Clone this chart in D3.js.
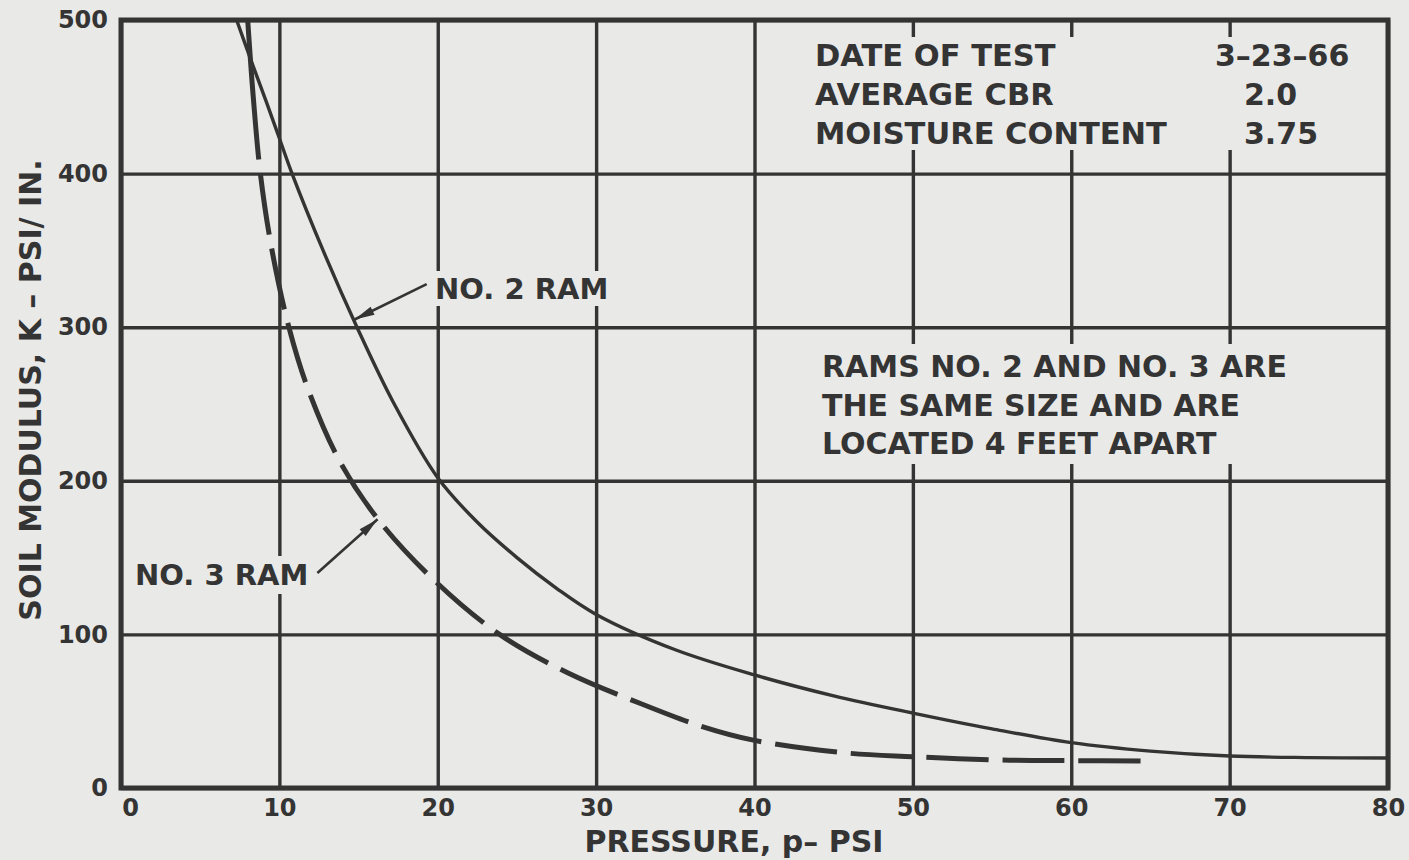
<!DOCTYPE html>
<html>
<head>
<meta charset="utf-8">
<script src="https://cdn.jsdelivr.net/npm/d3@7"></script>
<style>
  html, body { margin: 0; padding: 0; background: #e9e9e7; }
  svg { display: block; }
  text { font-family: "DejaVu Sans", sans-serif; font-weight: bold; fill: #343434; }
</style>
</head>
<body>
<svg id="chart" width="1409" height="860"></svg>
<script>
// Axis ticks
const pressureTicks = [0, 10, 20, 30, 40, 50, 60, 70, 80];
const modulusTicks = [0, 100, 200, 300, 400, 500];

// No. 2 ram: soil modulus K (psi/in.) against pressure p (psi)
const ram2Pressure = [7.3, 8.2, 9.2, 10.0, 10.8, 12.8, 14.9, 17.2, 20.0, 22.5, 25, 27.5, 30, 35, 40, 45, 50, 55, 60, 65, 70, 75, 80];
const ram2Modulus  = [500, 474, 446, 423, 400, 349, 300, 251, 202, 173, 150, 130, 113, 90, 73.6, 60, 48.8, 38.5, 29.5, 24, 20.8, 19.8, 19.5];

// No. 3 ram
const ram3Pressure = [8.0, 8.35, 8.8, 9.5, 10.6, 11.8, 13.8, 16.3, 19.8, 23.9, 28.2, 32.8, 36.7, 40, 45.8, 50, 55.5, 60, 64.6];
const ram3Modulus  = [500, 450, 400, 352, 300, 260, 213, 174, 135, 100, 75, 55, 40, 31, 22.8, 20.4, 18.2, 17.8, 17.5];

// Test information block
const testInfoLabels = ["DATE OF TEST", "AVERAGE CBR", "MOISTURE CONTENT"];
const testInfoValues = ["3\u201323\u201366", "2.0", "3.75"];
const noteLines = ["RAMS NO. 2 AND NO. 3 ARE", "THE SAME SIZE AND ARE", "LOCATED 4 FEET APART"];
const curveLabels = ["NO. 2 RAM", "NO. 3 RAM"];

const xTitle = "PRESSURE, p\u2013 PSI";
const yTitle = "SOIL MODULUS, K \u2013 PSI/ IN.";

const ink = "#343434";
const paper = "#e9e9e7";

const svg = d3.select("#chart");
const plotLeft = 121, plotRight = 1388, plotTop = 20, plotBottom = 788;

const x = d3.scaleLinear().domain([0, 80]).range([plotLeft, plotRight]);
const y = d3.scaleLinear().domain([0, 500]).range([plotBottom, plotTop]);

// Grid + tick labels
const xAxis = svg.append("g")
  .attr("transform", `translate(0,${plotBottom})`)
  .call(d3.axisBottom(x).tickValues(pressureTicks).tickSize(-(plotBottom - plotTop)).tickPadding(11).tickFormat(d3.format("d")));
const yAxis = svg.append("g")
  .attr("transform", `translate(${plotLeft},0)`)
  .call(d3.axisLeft(y).tickValues(modulusTicks).tickSize(-(plotRight - plotLeft)).tickPadding(13).tickFormat(d3.format("d")));

[xAxis, yAxis].forEach(g => {
  g.select(".domain").remove();
  g.selectAll(".tick line").attr("stroke", ink).attr("stroke-width", 3.4);
  g.selectAll(".tick text")
    .attr("fill", ink)
    .style("font-family", "'DejaVu Sans', sans-serif")
    .style("font-weight", "bold")
    .style("font-size", "24px");
});
xAxis.selectAll(".tick text").filter(d => d === 0).attr("x", 9);

// Gaps in the grid behind the annotations
const gaps = [
  [805, 37, 555, 113],
  [810, 344, 490, 120],
  [428, 271, 190, 35],
  [128, 556, 190, 38]
];
svg.append("g").selectAll("rect").data(gaps).join("rect")
  .attr("x", d => d[0]).attr("y", d => d[1])
  .attr("width", d => d[2]).attr("height", d => d[3])
  .attr("fill", paper);

// Frame
svg.append("rect")
  .attr("x", plotLeft).attr("y", plotTop)
  .attr("width", plotRight - plotLeft).attr("height", plotBottom - plotTop)
  .attr("fill", "none").attr("stroke", ink).attr("stroke-width", 5);

// Curves
const line = d3.line()
  .x(d => x(d[0])).y(d => y(d[1]))
  .curve(d3.curveCatmullRom.alpha(0.5));

svg.append("path")
  .datum(d3.zip(ram2Pressure, ram2Modulus))
  .attr("d", line)
  .attr("fill", "none").attr("stroke", ink).attr("stroke-width", 3.4);

const dashes = ["140 14"].concat(d3.range(40).map(() => "62 14")).join(" ");
svg.append("path")
  .datum(d3.zip(ram3Pressure, ram3Modulus))
  .attr("d", line)
  .attr("fill", "none").attr("stroke", ink).attr("stroke-width", 5)
  .attr("stroke-dasharray", dashes);

// Leader arrows to the curves
function arrow(from, to) {
  const x0 = x(from[0]), y0 = y(from[1]), x1 = x(to[0]), y1 = y(to[1]);
  const a = Math.atan2(y1 - y0, x1 - x0);
  svg.append("line")
    .attr("x1", x0).attr("y1", y0).attr("x2", x1).attr("y2", y1)
    .attr("stroke", ink).attr("stroke-width", 2.6);
  const len = 20, half = 4.5;
  const bx = x1 - len * Math.cos(a), by = y1 - len * Math.sin(a);
  const px = -Math.sin(a) * half, py = Math.cos(a) * half;
  svg.append("polygon")
    .attr("points", [[x1, y1], [bx + px, by + py], [bx - px, by - py]].map(p => p.join(",")).join(" "))
    .attr("fill", ink);
}
arrow([19.3, 328], [14.75, 305]);
arrow([12.4, 140], [16.2, 175]);

// Curve labels
svg.append("text").attr("x", 435).attr("y", 299).style("font-size", "29px").text(curveLabels[0]);
svg.append("text").attr("x", 135).attr("y", 585).style("font-size", "29px").text(curveLabels[1]);

// Test information
const infoRows = [66, 105, 144];
const valueX = [1215, 1244, 1244];
svg.append("g").selectAll("text").data(testInfoLabels).join("text")
  .attr("x", 815).attr("y", (d, i) => infoRows[i])
  .style("font-size", "30.5px").text(d => d);
svg.append("g").selectAll("text").data(testInfoValues).join("text")
  .attr("x", (d, i) => valueX[i]).attr("y", (d, i) => infoRows[i])
  .style("font-size", "30px").text(d => d);

// Note
const noteRows = [377, 416, 454];
svg.append("g").selectAll("text").data(noteLines).join("text")
  .attr("x", 822).attr("y", (d, i) => noteRows[i])
  .style("font-size", "30px").text(d => d);

// Axis titles
svg.append("text")
  .attr("x", 734).attr("y", 852).attr("text-anchor", "middle")
  .style("font-size", "30px").text(xTitle);
svg.append("text")
  .attr("transform", "translate(41,390) rotate(-90)")
  .attr("text-anchor", "middle")
  .style("font-size", "30px").text(yTitle);
</script>
</body>
</html>
